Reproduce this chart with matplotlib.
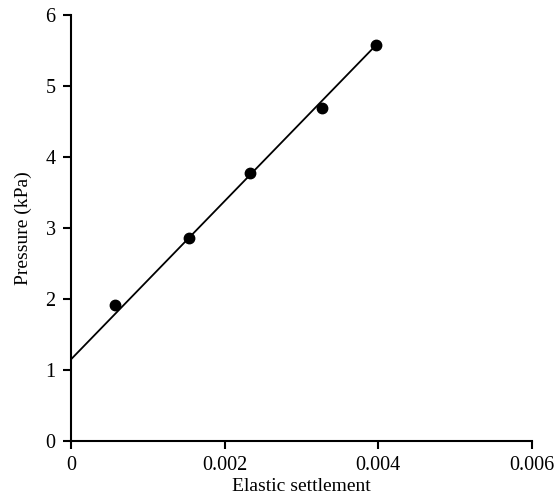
import numpy as np
import matplotlib.pyplot as plt

plt.rcParams['font.family'] = ['Liberation Serif', 'DejaVu Serif']

# measured points
settlement = [0.00057, 0.00154, 0.00233, 0.00327, 0.00397]
pressure = [1.92, 2.86, 3.77, 4.69, 5.58]

# linear fit line endpoints
fit_x = [0.0, 0.00401]
fit_y = [1.15, 5.62]

fig = plt.figure(figsize=(5.57, 4.97), dpi=100)
ax = fig.add_axes([0.1275, 0.1127, 0.955 - 0.1275, 0.9698 - 0.1127])

ax.plot(fit_x, fit_y, color='black', linewidth=1.3)
ax.plot(settlement, pressure, 'o', color='black', markersize=7.5)

ax.set_xlim(0, 0.006)
ax.set_ylim(0, 6)
ax.set_xticks([0, 0.002, 0.004, 0.006])
ax.set_xticklabels(['0', '0.002', '0.004', '0.006'])
ax.set_yticks(range(0, 7))

for s in ['top', 'right']:
    ax.spines[s].set_visible(False)
for s in ['left', 'bottom']:
    ax.spines[s].set_linewidth(1.5)

ax.tick_params(direction='out', length=6, width=1.5, labelsize=14.5, pad=5)
ax.set_xlabel('Elastic settlement', fontsize=14, labelpad=2)
ax.set_ylabel('Pressure (kPa)', fontsize=14, labelpad=10)

fig.savefig('out.png', dpi=100)
